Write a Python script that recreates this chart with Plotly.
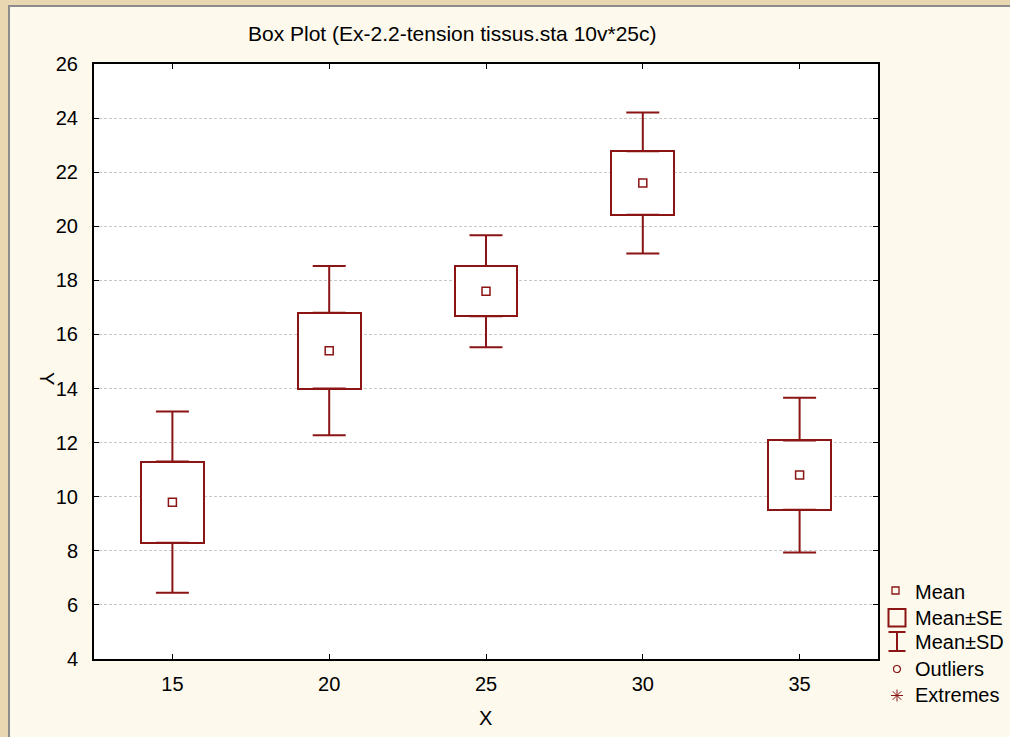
import plotly.graph_objects as go

# ---- data ----
x_levels = [15, 20, 25, 30, 35]
means = [9.8, 15.4, 17.6, 21.6, 10.8]
se = [1.50, 1.40, 0.93, 1.17, 1.28]
sd = [3.35, 3.13, 2.07, 2.61, 2.86]
y_ticks = [4, 6, 8, 10, 12, 14, 16, 18, 20, 22, 24, 26]
legend_labels = ["Mean", "Mean±SE", "Mean±SD", "Outliers", "Extremes"]
title_text = "Box Plot (Ex-2.2-tension tissus.sta 10v*25c)"

RED = "#8b1414"
FONT = "Liberation Sans, Arial, sans-serif"
W, H = 1010, 737
L, R, T, B = 94, 878, 64, 659  # plot-area pixel edges

def px(xp):
    return (xp - L) / (R - L)

def py(yp):
    return (B - yp) / (B - T)

lo_se = [m - s for m, s in zip(means, se)]
hi_se = [m + s for m, s in zip(means, se)]
two_se = [2 * s for s in se]
ext = [d - s for d, s in zip(sd, se)]
zeros = [0] * len(x_levels)

fig = go.Figure()
# Mean ± SE boxes
fig.add_trace(go.Bar(
    x=x_levels, y=two_se, base=lo_se, width=2.0,
    marker=dict(color="white", line=dict(color=RED, width=2)),
    hoverinfo="skip", showlegend=False,
))
# Mean ± SD whiskers (from box edges out to SD)
fig.add_trace(go.Scatter(
    x=x_levels, y=hi_se, mode="markers", marker=dict(size=0.1, color="rgba(0,0,0,0)"),
    error_y=dict(type="data", symmetric=False, array=ext, arrayminus=zeros,
                 color=RED, thickness=2, width=16.5),
    hoverinfo="skip", showlegend=False,
))
fig.add_trace(go.Scatter(
    x=x_levels, y=lo_se, mode="markers", marker=dict(size=0.1, color="rgba(0,0,0,0)"),
    error_y=dict(type="data", symmetric=False, array=zeros, arrayminus=ext,
                 color=RED, thickness=2, width=16.5),
    hoverinfo="skip", showlegend=False,
))
# Means
fig.add_trace(go.Scatter(
    x=x_levels, y=means, mode="markers",
    marker=dict(symbol="square-open", size=8, color=RED, line=dict(width=1.5, color=RED)),
    hoverinfo="skip", showlegend=False,
))

shapes = []
# cream panel with gray border on top/left, over parchment background
shapes.append(dict(type="rect", xref="paper", yref="paper", layer="below",
                   x0=px(9), x1=px(W + 5), y0=py(6), y1=py(H + 5),
                   fillcolor="#fef9ed", line=dict(color="#8c8c8c", width=2)))
# white plot area
shapes.append(dict(type="rect", xref="paper", yref="paper", layer="below",
                   x0=0, x1=1, y0=0, y1=1, fillcolor="white", line=dict(width=0)))

# legend symbols
shapes.append(dict(type="rect", xref="paper", yref="paper",
                   x0=px(892), x1=px(899), y0=py(594), y1=py(587),
                   line=dict(color=RED, width=1.3)))
shapes.append(dict(type="rect", xref="paper", yref="paper",
                   x0=px(888.5), x1=px(905.5), y0=py(626.5), y1=py(609),
                   line=dict(color=RED, width=2)))
for yy in (632, 651):
    shapes.append(dict(type="line", xref="paper", yref="paper",
                       x0=px(888.5), x1=px(905.5), y0=py(yy), y1=py(yy),
                       line=dict(color=RED, width=2)))
shapes.append(dict(type="line", xref="paper", yref="paper",
                   x0=px(897), x1=px(897), y0=py(632), y1=py(651),
                   line=dict(color=RED, width=2)))
shapes.append(dict(type="circle", xref="paper", yref="paper",
                   x0=px(893.5), x1=px(900.5), y0=py(672.5), y1=py(665.5),
                   line=dict(color=RED, width=1.2)))
cx, cy, r = 897, 695.5, 6
for dx, dy in ((0, 1), (1, 0), (0.72, 0.72), (0.72, -0.72)):
    shapes.append(dict(type="line", xref="paper", yref="paper",
                       x0=px(cx - dx * r), x1=px(cx + dx * r),
                       y0=py(cy - dy * r), y1=py(cy + dy * r),
                       line=dict(color=RED, width=1)))

annotations = []
for lab, yy in zip(legend_labels, [592, 618, 642, 669, 695]):
    annotations.append(dict(text=lab, xref="paper", yref="paper", x=px(913), y=py(yy),
                            xanchor="left", yanchor="middle", showarrow=False,
                            font=dict(family=FONT, size=20, color="black")))
annotations.append(dict(text=title_text, xref="paper", yref="paper", x=px(452), y=py(34),
                        xanchor="center", yanchor="middle", showarrow=False,
                        font=dict(family=FONT, size=21, color="black")))
annotations.append(dict(text="Y", xref="paper", yref="paper", x=px(47), y=py(378),
                        xanchor="center", yanchor="middle", showarrow=False, textangle=90,
                        font=dict(family=FONT, size=20, color="black")))
annotations.append(dict(text="X", xref="paper", yref="paper", x=px(485), y=py(718),
                        xanchor="center", yanchor="middle", showarrow=False,
                        font=dict(family=FONT, size=20, color="black")))

fig.update_layout(
    width=W, height=H,
    margin=dict(l=L, r=W - R, t=T, b=H - B, pad=0),
    paper_bgcolor="#e9d7b2",
    plot_bgcolor="white",
    showlegend=False,
    bargap=0,
    shapes=shapes,
    annotations=annotations,
    font=dict(family=FONT, size=20, color="black"),
)
fig.update_xaxes(
    range=[12.5, 37.5], tickvals=x_levels, ticktext=[str(v) for v in x_levels],
    showgrid=False, zeroline=False,
    showline=True, linewidth=2, linecolor="black", mirror="allticks",
    ticks="inside", ticklen=5, tickwidth=1, tickcolor="black",
    ticklabelstandoff=6, tickfont=dict(family=FONT, size=20, color="black"),
)
fig.update_yaxes(
    range=[4, 26], tickvals=y_ticks, ticktext=[str(v) for v in y_ticks],
    showgrid=True, gridcolor="#c8c8c8", griddash="3px,2px", gridwidth=1, zeroline=False,
    showline=True, linewidth=2, linecolor="black", mirror="allticks",
    ticks="inside", ticklen=5, tickwidth=1, tickcolor="black",
    ticklabelstandoff=10, tickfont=dict(family=FONT, size=20, color="black"),
)

fig.write_html("out.html")
